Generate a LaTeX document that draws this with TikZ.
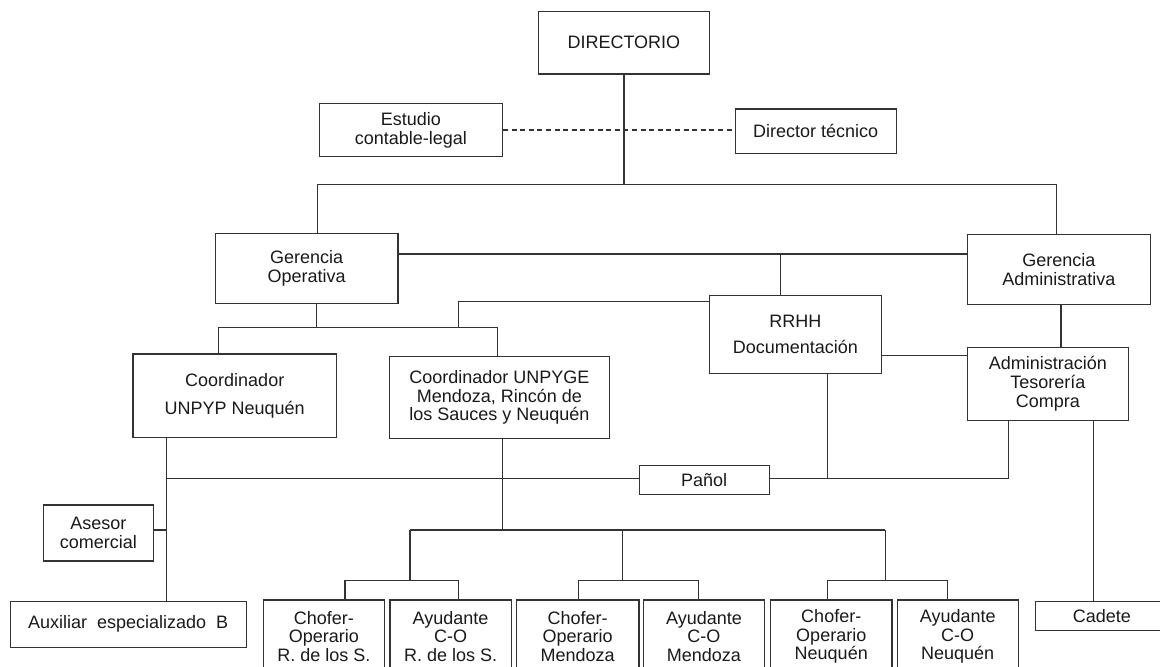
\documentclass[tikz,border=0pt]{standalone}
\usepackage{fontspec}
\setmainfont{Liberation Sans}
\definecolor{lc}{HTML}{333333}
\definecolor{tc}{HTML}{1A1A1A}
\newcommand\fsz{\fontsize{18}{18.8}\selectfont}
\begin{document}
\begin{tikzpicture}[x=1pt,y=-1pt,
  box/.style={draw=lc, line width=1.2pt, inner sep=0pt, align=center, anchor=north west, font=\fsz, text=tc},
  conn/.style={draw=lc, line width=1.2pt},
  dconn/.style={draw=lc, line width=1.1pt, dash pattern=on 5pt off 3.6pt}
]
\useasboundingbox (0,0) rectangle (1160,667);
\clip (0,0) rectangle (1160,667);
\fill[white] (0,0) rectangle (1160,667);

% boxes
\node[box, minimum width=171.6pt, minimum height=62.6pt] (dir) at (537.5,10.7) {DIRECTORIO};
\node[box, minimum width=182.7pt, minimum height=53.3pt] (est) at (319,102.7) {Estudio\\contable-legal};
\node[box, minimum width=161pt, minimum height=44.4pt] (dtec) at (734.6,108.3) {Director técnico};
\node[box, minimum width=182.7pt, minimum height=70pt] (go) at (214.6,232.7) {Gerencia\\Operativa};
\node[box, minimum width=182.7pt, minimum height=69.5pt] (ga) at (967,234) {Gerencia\\Administrativa};
\node[box, minimum width=172.1pt, minimum height=77.7pt] (rrhh) at (708.7,295) {RRHH\\[8pt]Documentación};
\node[box, minimum width=160.7pt, minimum height=73.5pt] (adm) at (967,346.5) {Administración\\Tesorería\\Compra};
\node[box, minimum width=203.5pt, minimum height=83.4pt] (cu) at (132.4,353.3) {Coordinador\\[9pt]UNPYP Neuquén};
\node[box, minimum width=219.3pt, minimum height=81.7pt] (cg) at (389.2,356) {Coordinador UNPYGE\\Mendoza, Rincón de\\los Sauces y Neuquén};
\node[box, minimum width=130.2pt, minimum height=29.3pt] (panol) at (638.5,464.7) {Pañol};
\node[box, minimum width=110.7pt, minimum height=56pt] (ase) at (42.5,504.3) {Asesor\\comercial};
\node[box, minimum width=236.1pt, minimum height=46pt] (aux) at (9.6,600.7) {Auxiliar\ \ especializado\ \ B};
\node[box, minimum width=133pt, minimum height=29.3pt] (cad) at (1034.7,600.7) {Cadete};
\node[box, minimum width=121.3pt, minimum height=73pt] (b1) at (262.7,599.3) {Chofer-\\Operario\\R. de los S.};
\node[box, minimum width=121.4pt, minimum height=73pt] (b2) at (389.3,599.3) {Ayudante\\C-O\\R. de los S.};
\node[box, minimum width=122.6pt, minimum height=73pt] (b3) at (515.7,599.3) {Chofer-\\Operario\\Mendoza};
\node[box, minimum width=121.3pt, minimum height=73pt] (b4) at (642.7,599.3) {Ayudante\\C-O\\Mendoza};
\node[box, minimum width=121.3pt, minimum height=73pt] (b5) at (770,599.3) {Chofer-\\Operario\\Neuquén};
\node[box, minimum width=120.8pt, minimum height=73pt] (b6) at (896.7,599.3) {Ayudante\\C-O\\Neuquén};

% junction coordinates
\coordinate (t1) at (317.4,184.3);
\coordinate (t2) at (1056.1,184.3);
\coordinate (t3) at (780.5,254);
\coordinate (t4) at (458.4,301.7);
\coordinate (t5) at (316.3,327.7);
\coordinate (t6) at (218.6,327.7);
\coordinate (t7) at (497.6,327.7);
\coordinate (t8) at (0,355.7);
\coordinate (t9) at (1061,0);
\coordinate (t10) at (166.1,478.7);
\coordinate (t11) at (1008.7,478.7);
\coordinate (t12) at (827.5,478.7);
\coordinate (t13) at (502.8,530);
\coordinate (t14) at (1093.6,0);
\coordinate (u1) at (409.9,530);
\coordinate (u2) at (622.8,530);
\coordinate (u3) at (885.2,530);
\coordinate (g1a) at (345,580.7);
\coordinate (g1b) at (458.3,580.7);
\coordinate (g2a) at (578.3,580.7);
\coordinate (g2b) at (698.7,580.7);
\coordinate (g3a) at (827.3,580.7);
\coordinate (g3b) at (947.3,580.7);

% connectors
\draw[conn] (dir.south) -- (dir.south |- t1);
\draw[conn] (t1 |- go.north) -- (t1) -- (t2) -- (t2 |- ga.north);
\draw[dconn] (est.east) -- (est.east -| dtec.west);
\draw[conn] (t3 -| go.east) -- (t3 -| ga.west);
\draw[conn] (t3) -- (t3 |- rrhh.north);
\draw[conn] (t4 -| rrhh.west) -- (t4) -- (t4 |- t6);
\draw[conn] (t5 |- go.south) -- (t5);
\draw[conn] (t6 |- cu.north) -- (t6) -- (t7) -- (t7 |- cg.north);
\draw[conn] (t8 -| rrhh.east) -- (t8 -| adm.west);
\draw[conn] (t9 |- ga.south) -- (t9 |- adm.north);
\draw[conn] (t10 |- cu.south) -- (t10 |- aux.north);
\draw[conn] (t10) -- (t10 -| panol.west);
\draw[conn] (t10 -| panol.east) -- (t11) -- (t11 |- adm.south);
\draw[conn] (t12 |- rrhh.south) -- (t12);
\draw[conn] (ase.east |- t13) -- (t10 |- t13);
\draw[conn] (t13 |- cg.south) -- (t13);
\draw[conn] (u1) -- (u3);
\draw[conn] (u1) -- (u1 |- g1a);
\draw[conn] (u2) -- (u2 |- g2a);
\draw[conn] (u3) -- (u3 |- g3a);
\draw[conn] (g1a |- b1.north) -- (g1a) -- (g1b) -- (g1b |- b2.north);
\draw[conn] (g2a |- b3.north) -- (g2a) -- (g2b) -- (g2b |- b4.north);
\draw[conn] (g3a |- b5.north) -- (g3a) -- (g3b) -- (g3b |- b6.north);
\draw[conn] (t14 |- adm.south) -- (t14 |- cad.north);
\end{tikzpicture}
\end{document}
